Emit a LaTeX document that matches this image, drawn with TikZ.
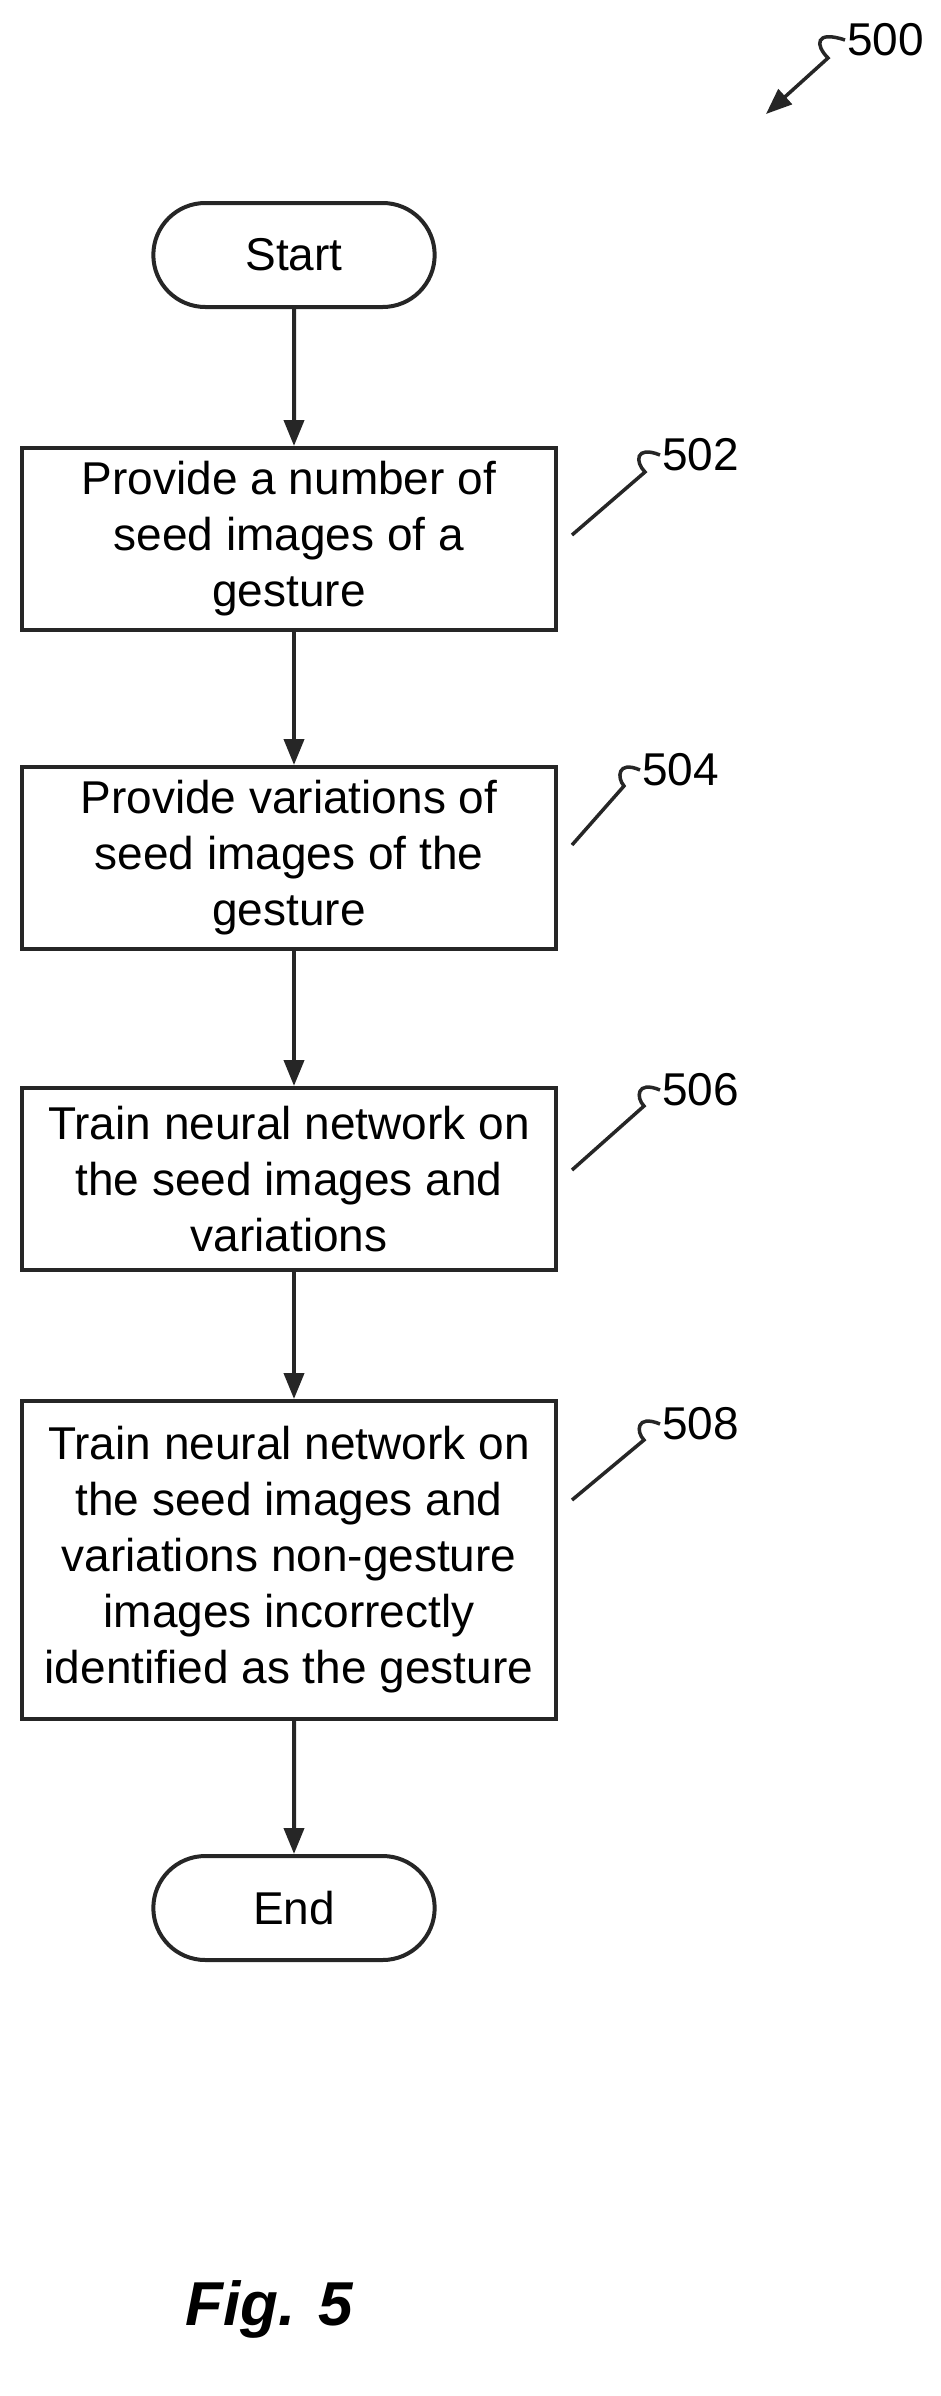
\documentclass[tikz,border=0pt]{standalone}
\usepackage{fontspec}
\setmainfont{Liberation Sans}
\usetikzlibrary{arrows.meta,shapes.misc}
\begin{document}
\begin{tikzpicture}[x=1pt,y=-1pt,
  line width=4pt, draw=black!85,
  box/.style={draw=black!85, rectangle, minimum width=534pt, align=center, font=\fontsize{46}{56}\selectfont, inner sep=0pt},
  term/.style={draw=black!85, rounded rectangle, minimum width=288pt, minimum height=104pt, font=\fontsize{46}{56}\selectfont},
  arr/.style={-{Triangle[length=26pt,width=20pt]}},
  lbl/.style={font=\fontsize{46}{50}\selectfont, anchor=west, inner sep=0pt},
  lead/.style={line width=3.5pt}]
\useasboundingbox (0,0) rectangle (940,2396);
\node[term] (start) at (294,255) {Start};
\node[box, minimum height=182pt] (b502) at (289,539) {Provide a number of\\seed images of a\\gesture};
\node[box, minimum height=182pt] (b504) at (289,858) {Provide variations of\\seed images of the\\gesture};
\node[box, minimum height=182pt] (b506) at (289,1179) {Train neural network on\\the seed images and\\variations};
\node[box, minimum height=318pt] (b508) at (289,1560) {Train neural network on\\the seed images and\\variations non-gesture\\images incorrectly\\identified as the gesture};
\node[term] (end) at (294,1908) {End};
\draw[arr] (start) -- (start|-b502.north);
\draw[arr] (start|-b502.south) -- (start|-b504.north);
\draw[arr] (start|-b504.south) -- (start|-b506.north);
\draw[arr] (start|-b506.south) -- (start|-b508.north);
\draw[arr] (b508.south-|end) -- (end);
\node[lbl] (l500) at (845,40) {500};
\node[lbl] (l502) at (660,455) {502};
\node[lbl] (l504) at (640,770) {504};
\node[lbl] (l506) at (660,1090) {506};
\node[lbl] (l508) at (660,1424) {508};
\coordinate (t500) at (766,114);
\draw[lead,-{Triangle[length=26pt,width=20pt]}] (l500.west) .. controls (815,30) and (815,45) .. (828,58) -- (t500);
\draw[lead] (l502.west) .. controls (635,445) and (635,462) .. (645,472) -- (572,535);
\draw[lead] (l504.west) .. controls (617,760) and (617,778) .. (624,786) -- (572,845);
\draw[lead] (l506.west) .. controls (636,1080) and (636,1098) .. (644,1106) -- (572,1170);
\draw[lead] (l508.west) .. controls (636,1414) and (636,1432) .. (644,1440) -- (572,1500);
\node[font=\fontsize{62}{70}\selectfont\bfseries\itshape] (fig) at (269,2309) {Fig. 5};
\end{tikzpicture}
\end{document}
